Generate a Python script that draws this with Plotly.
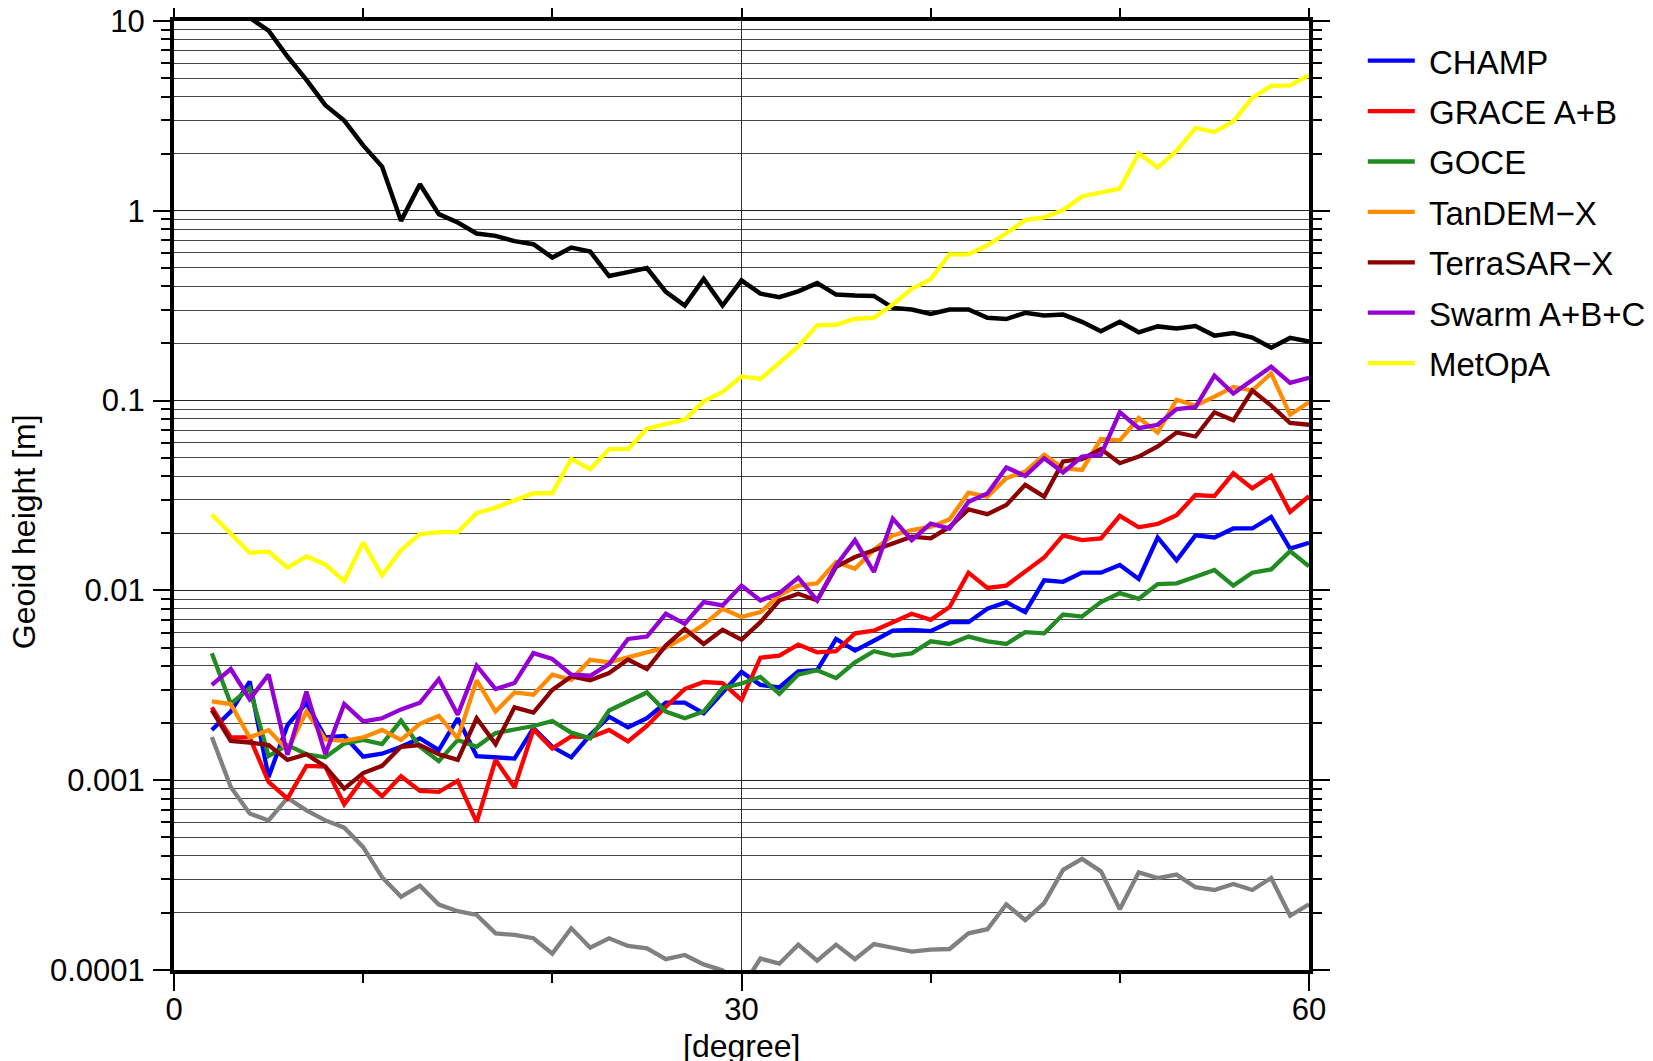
import plotly.graph_objects as go

degrees = list(range(2, 61))

signal = [30, 14, 10.4, 8.9, 6.5, 4.9, 3.6, 2.99, 2.21, 1.71,
          0.885, 1.38, 0.96, 0.867, 0.759, 0.738, 0.692, 0.667, 0.567, 0.64,
          0.61, 0.453, 0.475, 0.499, 0.374, 0.317, 0.438, 0.317, 0.43, 0.366,
          0.351, 0.376, 0.416, 0.362, 0.358, 0.356, 0.308, 0.302, 0.286, 0.302,
          0.302, 0.273, 0.269, 0.290, 0.281, 0.284, 0.260, 0.232, 0.260, 0.229,
          0.246, 0.240, 0.247, 0.220, 0.227, 0.215, 0.190, 0.214, 0.205]

reference_error = [0.00169, 0.000922, 0.000667, 0.000614, 0.000806, 0.000694, 0.000614, 0.000562, 0.000444, 0.000308,
                   0.000243, 0.000278, 0.000221, 0.000204, 0.000195, 0.000156, 0.000153, 0.000147, 0.000122, 0.000166,
                   0.000131, 0.000147, 0.000134, 0.000130, 0.000114, 0.000120, 0.000107, 0.0000995, 0.00008, 0.000115,
                   0.000108, 0.000136, 0.000112, 0.000136, 0.000114, 0.000137, 0.000131, 0.000125, 0.000128, 0.000129,
                   0.000156, 0.000164, 0.000222, 0.000183, 0.000225, 0.000337, 0.000385, 0.000331, 0.000209, 0.000327,
                   0.000305, 0.000318, 0.000273, 0.000264, 0.000284, 0.000264, 0.000305, 0.000193, 0.000222]

champ = [0.00184, 0.00230, 0.00331, 0.00104, 0.00195, 0.00255, 0.00168, 0.00171, 0.00133, 0.00138,
         0.00150, 0.00166, 0.00144, 0.00212, 0.00134, 0.00132, 0.00130, 0.00188, 0.00150, 0.00132,
         0.00173, 0.00216, 0.00190, 0.00212, 0.00256, 0.00256, 0.00225, 0.00290, 0.00372, 0.00318,
         0.00308, 0.00374, 0.00380, 0.00555, 0.00482, 0.00543, 0.00614, 0.00619, 0.00610, 0.00680,
         0.00680, 0.00800, 0.00867, 0.00768, 0.0113, 0.0111, 0.0124, 0.0124, 0.0136, 0.0115,
         0.0190, 0.0144, 0.0195, 0.0190, 0.0212, 0.0212, 0.0244, 0.0166, 0.0178]

grace = [0.00242, 0.00168, 0.00168, 0.00098, 0.00080, 0.00119, 0.00118, 0.000746, 0.00102, 0.000823,
         0.00105, 0.000878, 0.000868, 0.000992, 0.000602, 0.00128, 0.000915, 0.00185, 0.00147, 0.00170,
         0.00168, 0.00184, 0.00160, 0.00193, 0.00244, 0.00302, 0.00329, 0.00325, 0.00265, 0.00442,
         0.00453, 0.00518, 0.00472, 0.00478, 0.00594, 0.00614, 0.00680, 0.00753, 0.00700, 0.00817,
         0.0124, 0.0103, 0.0106, 0.0126, 0.0149, 0.0195, 0.0184, 0.0188, 0.0247, 0.0215,
         0.0224, 0.0249, 0.0318, 0.0314, 0.0414, 0.0345, 0.0401, 0.0259, 0.0314]

goce = [0.00466, 0.00253, 0.00305, 0.00134, 0.00153, 0.00137, 0.00132, 0.00156, 0.00163, 0.00155,
        0.00206, 0.00150, 0.00126, 0.00163, 0.00150, 0.00177, 0.00185, 0.00193, 0.00205, 0.00178,
        0.00166, 0.00233, 0.00260, 0.00290, 0.00230, 0.00212, 0.00230, 0.00305, 0.00323, 0.00350,
        0.00285, 0.00360, 0.00380, 0.00345, 0.00418, 0.00478, 0.00453, 0.00466, 0.00539, 0.00522,
        0.00571, 0.00539, 0.00522, 0.00603, 0.00594, 0.00746, 0.00728, 0.00867, 0.00968, 0.00903,
        0.0108, 0.0109, 0.0118, 0.0128, 0.0106, 0.0124, 0.0129, 0.0161, 0.0134]

tandemx = [0.00260, 0.00252, 0.00168, 0.00184, 0.00144, 0.00230, 0.00164, 0.00161, 0.00168, 0.00184,
           0.00163, 0.00198, 0.00218, 0.00166, 0.00336, 0.00230, 0.00290, 0.00282, 0.00360, 0.00338,
           0.00431, 0.00418, 0.00444, 0.00472, 0.00501, 0.00566, 0.00661, 0.00800, 0.00725, 0.00768,
           0.00941, 0.0106, 0.0109, 0.0141, 0.0130, 0.0164, 0.0195, 0.0208, 0.0216, 0.0237,
           0.0327, 0.0312, 0.0390, 0.0423, 0.0518, 0.0440, 0.0431, 0.0627, 0.0617, 0.0809,
           0.0679, 0.101, 0.0941, 0.105, 0.118, 0.113, 0.139, 0.0843, 0.098]

terrasarx = [0.00234, 0.00161, 0.00158, 0.00153, 0.00128, 0.00137, 0.00118, 0.000903, 0.00109, 0.00119,
             0.00150, 0.00153, 0.00137, 0.00128, 0.00212, 0.00155, 0.00242, 0.00227, 0.00299, 0.00352,
             0.00336, 0.00367, 0.00432, 0.00385, 0.00512, 0.00627, 0.00522, 0.00620, 0.00550, 0.00680,
             0.00885, 0.00960, 0.00885, 0.0133, 0.0150, 0.0163, 0.0177, 0.0192, 0.0188, 0.0216,
             0.0267, 0.0252, 0.0282, 0.0360, 0.0312, 0.0478, 0.0491, 0.0555, 0.0468, 0.0507,
             0.0573, 0.0679, 0.0647, 0.0868, 0.0787, 0.113, 0.0941, 0.0762, 0.0746]

swarm = [0.00318, 0.00385, 0.00267, 0.00360, 0.00136, 0.00293, 0.00137, 0.00252, 0.00204, 0.00212,
         0.00236, 0.00256, 0.00341, 0.00221, 0.00401, 0.00302, 0.00325, 0.00467, 0.00435, 0.00360,
         0.00355, 0.00409, 0.00555, 0.00571, 0.00753, 0.00667, 0.00867, 0.00833, 0.0106, 0.00885,
         0.00968, 0.01167, 0.00885, 0.01355, 0.0184, 0.0125, 0.0239, 0.0184, 0.0225, 0.0212,
         0.0293, 0.0324, 0.0444, 0.0401, 0.0497, 0.0418, 0.0507, 0.0518, 0.0868, 0.0716,
         0.0746, 0.0903, 0.0925, 0.1355, 0.1089, 0.129, 0.151, 0.124, 0.132]

metopa = [0.0251, 0.0198, 0.0158, 0.0160, 0.0132, 0.0151, 0.0137, 0.0112, 0.0179, 0.0120,
          0.0163, 0.0198, 0.0203, 0.0203, 0.0255, 0.0273, 0.0299, 0.0325, 0.0325, 0.0493,
          0.0435, 0.0555, 0.0555, 0.0711, 0.0753, 0.0793, 0.0991, 0.111, 0.134, 0.130,
          0.158, 0.193, 0.249, 0.251, 0.270, 0.273, 0.321, 0.388, 0.435, 0.590,
          0.590, 0.658, 0.762, 0.893, 0.923, 1.01, 1.19, 1.25, 1.31, 2.01,
          1.69, 2.07, 2.73, 2.60, 2.96, 3.93, 4.55, 4.58, 5.18]

series_names = ["CHAMP", "GRACE A+B", "GOCE", "TanDEM\u2212X", "TerraSAR\u2212X", "Swarm A+B+C", "MetOpA"]
series_values = [champ, grace, goce, tandemx, terrasarx, swarm, metopa]
series_colors = ["#0000ff", "#ff0000", "#228b22", "#ff8c00", "#8b0000", "#9400d3", "#ffff00"]

y_major = [1e-4, 1e-3, 1e-2, 1e-1, 1, 10]
y_major_text = ["0.0001", "0.001", "0.01", "0.1", "1", "10"]
y_minor = [m * 10.0 ** e for e in range(-4, 1) for m in range(2, 10)]
x_major = [0, 30, 60]
x_minor = [10, 20, 40, 50]

FONT = "Liberation Sans, Arial, Helvetica, sans-serif"

fig = go.Figure()
fig.add_trace(go.Scatter(x=degrees, y=signal, mode="lines", showlegend=False,
                         line=dict(color="black", width=4.5), hoverinfo="skip"))
fig.add_trace(go.Scatter(x=degrees, y=reference_error, mode="lines", showlegend=False,
                         line=dict(color="#808080", width=4.3), hoverinfo="skip"))
for name, vals, col in zip(series_names, series_values, series_colors):
    fig.add_trace(go.Scatter(x=degrees, y=vals, mode="lines", name="\u00a0" + name, legendgroup=name,
                             line=dict(color=col, width=4.3)))

# page body adds an 8px offset; margins compensate so the plot lands where the reference has it
fig.update_layout(
    width=1653, height=1061,
    margin=dict(l=166, r=352, t=13, b=99, pad=0, autoexpand=False),
    paper_bgcolor="white", plot_bgcolor="white",
    font=dict(family=FONT, size=31, color="black"),
    showlegend=True,
    legend=dict(x=1.0474, y=0.9876, xanchor="left", yanchor="top",
                font=dict(family=FONT, size=33, color="black"),
                bgcolor="rgba(0,0,0,0)", borderwidth=0,
                tracegroupgap=4.5, itemwidth=47),
    xaxis=dict(range=[0, 60], tickmode="array", tickvals=x_major,
               ticktext=[str(v) for v in x_major], automargin=False,
               ticklabeloverflow="allow",
               ticks="outside", ticklen=17, tickwidth=1.5, tickcolor="black",
               showline=True, linewidth=4, linecolor="black", mirror="ticks",
               showgrid=True, gridcolor="#333333", gridwidth=1, zeroline=False,
               ticklabelstandoff=-8,
               tickfont=dict(family=FONT, size=31, color="black"),
               minor=dict(tickmode="array", tickvals=x_minor, ticks="outside",
                          ticklen=9, tickwidth=1.5, tickcolor="black", showgrid=False)),
    yaxis=dict(type="log", range=[-4, 1], tickmode="array", tickvals=y_major,
               ticktext=y_major_text, automargin=False,
               ticklabeloverflow="allow",
               ticks="outside", ticklen=17, tickwidth=1.5, tickcolor="black",
               showline=True, linewidth=4, linecolor="black", mirror="ticks",
               showgrid=True, gridcolor="#222222", gridwidth=1.3, zeroline=False,
               ticklabelstandoff=2,
               tickfont=dict(family=FONT, size=31, color="black"),
               minor=dict(tickmode="array", tickvals=y_minor, ticks="outside",
                          ticklen=9, tickwidth=1.5, tickcolor="black",
                          showgrid=True, gridcolor="#444444", gridwidth=1)),
    annotations=[
        dict(text="Geoid height [m]", xref="paper", yref="paper", x=-0.132, y=0.4615,
             xanchor="center", yanchor="middle", textangle=-90, showarrow=False,
             font=dict(family=FONT, size=32, color="black")),
        dict(text="[degree]", xref="paper", yref="paper", x=0.5, y=-0.080,
             xanchor="center", yanchor="middle", showarrow=False,
             font=dict(family=FONT, size=32, color="black")),
    ],
)

fig.write_html("out.html")
